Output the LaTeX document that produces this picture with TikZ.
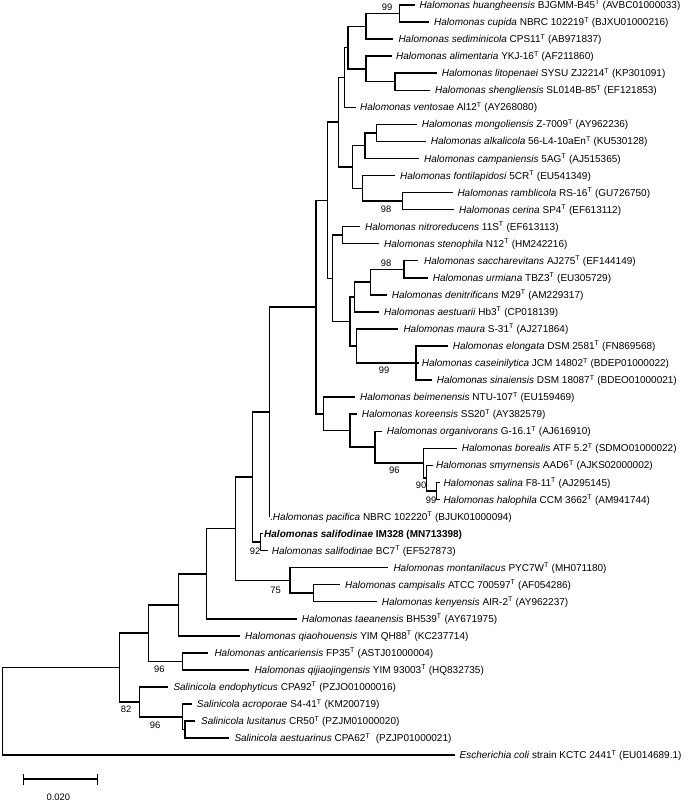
\documentclass[tikz,border=0pt]{standalone}
\usepackage{fontspec}
\setmainfont{Liberation Sans}
\newcommand\mkleaf[5]{\coordinate (#1) at (#2,#4); \node[lab] (#1-t) at (#3,#4+3.6) {#5};}
\newcommand\Tsup{\textsuperscript{T}}
\begin{document}
\begin{tikzpicture}[x=1pt,y=-1pt,
  br/.style={line width=1.45pt},
  lab/.style={anchor=base west, inner sep=0pt, font=\fontsize{10}{11}\selectfont},
  bs/.style={inner sep=0pt, font=\fontsize{9.4}{11}\selectfont}]
\useasboundingbox (0,0) rectangle (685,802);
% leaves: name, tip x, text x, y, text
\mkleaf{hu}{415}{419.3}{5}{\textit{Halomonas huangheensis} BJGMM-B45\Tsup{} (AVBC01000033)}
\mkleaf{cu}{429.3}{434}{22.05}{\textit{Halomonas cupida} NBRC 102219\Tsup{} (BJXU01000216)}
\mkleaf{sed}{393.3}{398.3}{39.1}{\textit{Halomonas sediminicola} CPS11\Tsup{} (AB971837)}
\mkleaf{ali}{391.7}{396}{56.15}{\textit{Halomonas alimentaria} YKJ-16\Tsup{} (AF211860)}
\mkleaf{lit}{436.7}{441.7}{73.2}{\textit{Halomonas litopenaei} SYSU ZJ2214\Tsup{} (KP301091)}
\mkleaf{shen}{430}{435}{90.25}{\textit{Halomonas shengliensis} SL014B-85\Tsup{} (EF121853)}
\mkleaf{ven}{356}{360}{107.3}{\textit{Halomonas ventosae} Al12\Tsup{} (AY268080)}
\mkleaf{mong}{416.7}{421.7}{124.35}{\textit{Halomonas mongoliensis} Z-7009\Tsup{} (AY962236)}
\mkleaf{alk}{425.7}{430.7}{141.4}{\textit{Halomonas alkalicola} 56-L4-10aEn\Tsup{} (KU530128)}
\mkleaf{camp}{419.3}{424}{158.45}{\textit{Halomonas campaniensis} 5AG\Tsup{} (AJ515365)}
\mkleaf{fon}{395}{400}{175.5}{\textit{Halomonas fontilapidosi} 5CR\Tsup{} (EU541349)}
\mkleaf{ramb}{452.7}{457.3}{192.55}{\textit{Halomonas ramblicola} RS-16\Tsup{} (GU726750)}
\mkleaf{cer}{454}{459}{209.6}{\textit{Halomonas cerina} SP4\Tsup{} (EF613112)}
\mkleaf{nit}{360}{365}{226.65}{\textit{Halomonas nitroreducens} 11S\Tsup{} (EF613113)}
\mkleaf{sten}{379}{384}{243.7}{\textit{Halomonas stenophila} N12\Tsup{} (HM242216)}
\mkleaf{sac}{418.3}{424}{260.75}{\textit{Halomonas saccharevitans} AJ275\Tsup{} (EF144149)}
\mkleaf{urm}{428.3}{432.7}{277.8}{\textit{Halomonas urmiana} TBZ3\Tsup{} (EU305729)}
\mkleaf{den}{386.7}{391.7}{294.85}{\textit{Halomonas denitrificans} M29\Tsup{} (AM229317)}
\mkleaf{aesi}{379.3}{384}{311.9}{\textit{Halomonas aestuarii} Hb3\Tsup{} (CP018139)}
\mkleaf{mau}{398.3}{403.3}{328.95}{\textit{Halomonas maura} S-31\Tsup{} (AJ271864)}
\mkleaf{elo}{448.3}{452.7}{346}{\textit{Halomonas elongata} DSM 2581\Tsup{} (FN869568)}
\mkleaf{cas}{419}{421.7}{363.05}{\textit{Halomonas caseinilytica} JCM 14802\Tsup{} (BDEP01000022)}
\mkleaf{sin}{431.7}{436.7}{380.1}{\textit{Halomonas sinaiensis} DSM 18087\Tsup{} (BDEO01000021)}
\mkleaf{bei}{355}{360}{397.15}{\textit{Halomonas beimenensis} NTU-107\Tsup{} (EU159469)}
\mkleaf{kor}{356.7}{361.7}{414.2}{\textit{Halomonas koreensis} SS20\Tsup{} (AY382579)}
\mkleaf{org}{381.7}{386.7}{431.25}{\textit{Halomonas organivorans} G-16.1\Tsup{} (AJ616910)}
\mkleaf{bor}{456.7}{461.7}{448.3}{\textit{Halomonas borealis} ATF 5.2\Tsup{} (SDMO01000022)}
\mkleaf{smy}{432.7}{436}{465.35}{\textit{Halomonas smyrnensis} AAD6\Tsup{} (AJKS02000002)}
\mkleaf{sal}{440}{443.3}{482.4}{\textit{Halomonas salina} F8-11\Tsup{} (AJ295145)}
\mkleaf{hal}{440}{443.3}{499.45}{\textit{Halomonas halophila} CCM 3662\Tsup{} (AM941744)}
\mkleaf{pac}{269.3}{270}{516.5}{.\textit{Halomonas pacifica} NBRC 102220\Tsup{} (BJUK01000094)}
\mkleaf{im}{263}{264}{533.55}{\textbf{\textit{Halomonas salifodinae} IM328 (MN713398)}}
\mkleaf{bc}{268}{271.7}{550.6}{\textit{Halomonas salifodinae} BC7\Tsup{} (EF527873)}
\mkleaf{mon}{388.3}{393.3}{567.65}{\textit{Halomonas montanilacus} PYC7W\Tsup{} (MH071180)}
\mkleaf{cps}{340}{345}{584.7}{\textit{Halomonas campisalis} ATCC 700597\Tsup{} (AF054286)}
\mkleaf{ken}{376.7}{381.7}{601.75}{\textit{Halomonas kenyensis} AIR-2\Tsup{} (AY962237)}
\mkleaf{tae}{296.7}{301.7}{618.8}{\textit{Halomonas taeanensis} BH539\Tsup{} (AY671975)}
\mkleaf{qia}{240}{245}{635.85}{\textit{Halomonas qiaohouensis} YIM QH88\Tsup{} (KC237714)}
\mkleaf{ant}{208.3}{214.3}{652.9}{\textit{Halomonas anticariensis} FP35\Tsup{} (ASTJ01000004)}
\mkleaf{qij}{249.3}{254.3}{669.95}{\textit{Halomonas qijiaojingensis} YIM 93003\Tsup{} (HQ832735)}
\mkleaf{endo}{168.3}{173.3}{687}{\textit{Salinicola endophyticus} CPA92\Tsup{} (PZJO01000016)}
\mkleaf{acr}{191.7}{196.7}{704.05}{\textit{Salinicola acroporae} S4-41\Tsup{} (KM200719)}
\mkleaf{lus}{195}{201}{721.1}{\textit{Salinicola lusitanus} CR50\Tsup{} (PZJM01000020)}
\mkleaf{aer}{229.3}{234.3}{738.15}{\textit{Salinicola aestuarinus} CPA62\Tsup{}\ \ (PZJP01000021)}
\mkleaf{eco}{455}{459.5}{755.2}{\textit{Escherichia coli} strain KCTC 2441\Tsup{} (EU014689.1)}
% internal nodes
\coordinate (nhc) at (399.3,13.5);
\coordinate (nhcs) at (366,26.3);
\coordinate (nls) at (395,81.7);
\coordinate (nals) at (366,68.9);
\coordinate (nA) at (348,47.6);
\coordinate (nAv) at (344.3,77.5);
\coordinate (nma) at (376.7,132.9);
\coordinate (nmac) at (365,145.7);
\coordinate (nrc) at (402.7,201.1);
\coordinate (nfrc) at (362.7,188.3);
\coordinate (nmf) at (352.7,167);
\coordinate (ntop1) at (338.3,122.2);
\coordinate (nns) at (342.3,235.2);
\coordinate (nsu) at (404,269.3);
\coordinate (nsud) at (370.7,282.1);
\coordinate (nsuda) at (354.3,297);
\coordinate (necs) at (416,363.05);
\coordinate (nme) at (356.7,346);
\coordinate (nsm) at (350,321.5);
\coordinate (nnit) at (332.7,278.4);
\coordinate (ntop2) at (327.3,200.3);
\coordinate (nsh) at (436.7,490.9);
\coordinate (nssh) at (426.7,478.1);
\coordinate (nbor) at (423.3,463.2);
\coordinate (norg) at (375,447.2);
\coordinate (nkor) at (350,430.7);
\coordinate (nbk) at (323.3,413.9);
\coordinate (nmain) at (316,307.1);
\coordinate (npac) at (269.3,411.8);
\coordinate (nsal) at (260.5,542.1);
\coordinate (nps) at (252.5,477);
\coordinate (nck) at (313.3,593.2);
\coordinate (nmck) at (290,580.4);
\coordinate (npsm) at (235.3,528.7);
\coordinate (nt) at (206.7,573.8);
\coordinate (nq) at (178.3,604.8);
\coordinate (naq) at (182.7,661.4);
\coordinate (nH) at (148.3,633.1);
\coordinate (nlas) at (185,729.6);
\coordinate (nalas) at (182.7,716.8);
\coordinate (nS) at (139.3,701.9);
\coordinate (nHS) at (119.3,667.5);
\coordinate (root) at (2.7,711.4);
% branches
\foreach \p/\c in {nhc/hu, nhc/cu, nhcs/nhc, nhcs/sed, nls/lit, nls/shen, nals/ali, nals/nls,
  nA/nhcs, nA/nals, nAv/nA, nAv/ven, nma/mong, nma/alk, nmac/nma, nmac/camp,
  nrc/ramb, nrc/cer, nfrc/fon, nfrc/nrc, nmf/nmac, nmf/nfrc, ntop1/nAv, ntop1/nmf,
  nns/nit, nns/sten, nsu/sac, nsu/urm, nsud/nsu, nsud/den, nsuda/nsud, nsuda/aesi,
  necs/elo, necs/cas, necs/sin, nme/mau, nme/necs, nsm/nsuda, nsm/nme, nnit/nns, nnit/nsm,
  ntop2/ntop1, ntop2/nnit, nsh/sal, nsh/hal, nssh/smy, nssh/nsh, nbor/bor, nbor/nssh,
  norg/org, norg/nbor, nkor/kor, nkor/norg, nbk/bei, nbk/nkor, nmain/ntop2, nmain/nbk,
  npac/nmain, npac/pac, nsal/im, nsal/bc, nps/npac, nps/nsal, nck/cps, nck/ken,
  nmck/mon, nmck/nck, npsm/nps, npsm/nmck, nt/npsm, nt/tae, nq/nt, nq/qia,
  naq/ant, naq/qij, nH/nq, nH/naq, nlas/lus, nlas/aer, nalas/acr, nalas/nlas,
  nS/endo, nS/nalas, nHS/nH, nHS/nS, root/nHS, root/eco}
  \draw[br] (\p) |- (\c);
% bootstrap values
\node[bs] (b1) at (387,7.5) {99};
\node[bs] (b2) at (386,209) {98};
\node[bs] (b3) at (386,263.3) {98};
\node[bs] (b4) at (384,370.5) {99};
\node[bs] (b5) at (394.3,470.7) {96};
\node[bs] (b6) at (421,485.5) {90};
\node[bs] (b7) at (431,500) {99};
\node[bs] (b8) at (255,551.5) {92};
\node[bs] (b9) at (275.5,590) {75};
\node[bs] (b10) at (159.3,669.3) {96};
\node[bs] (b11) at (126,709.3) {82};
\node[bs] (b12) at (155,725) {96};
% scale bar
\coordinate (sb1) at (23.3,779);
\coordinate (sb2) at (97.3,779);
\draw[br] (sb1) -- (sb2);
\draw[br] ([yshift=-5.5pt]sb1) -- ([yshift=5.5pt]sb1);
\draw[br] ([yshift=-5.5pt]sb2) -- ([yshift=5.5pt]sb2);
\node[bs] (sbl) at (58.3,797.5) {0.020};
\end{tikzpicture}
\end{document}
